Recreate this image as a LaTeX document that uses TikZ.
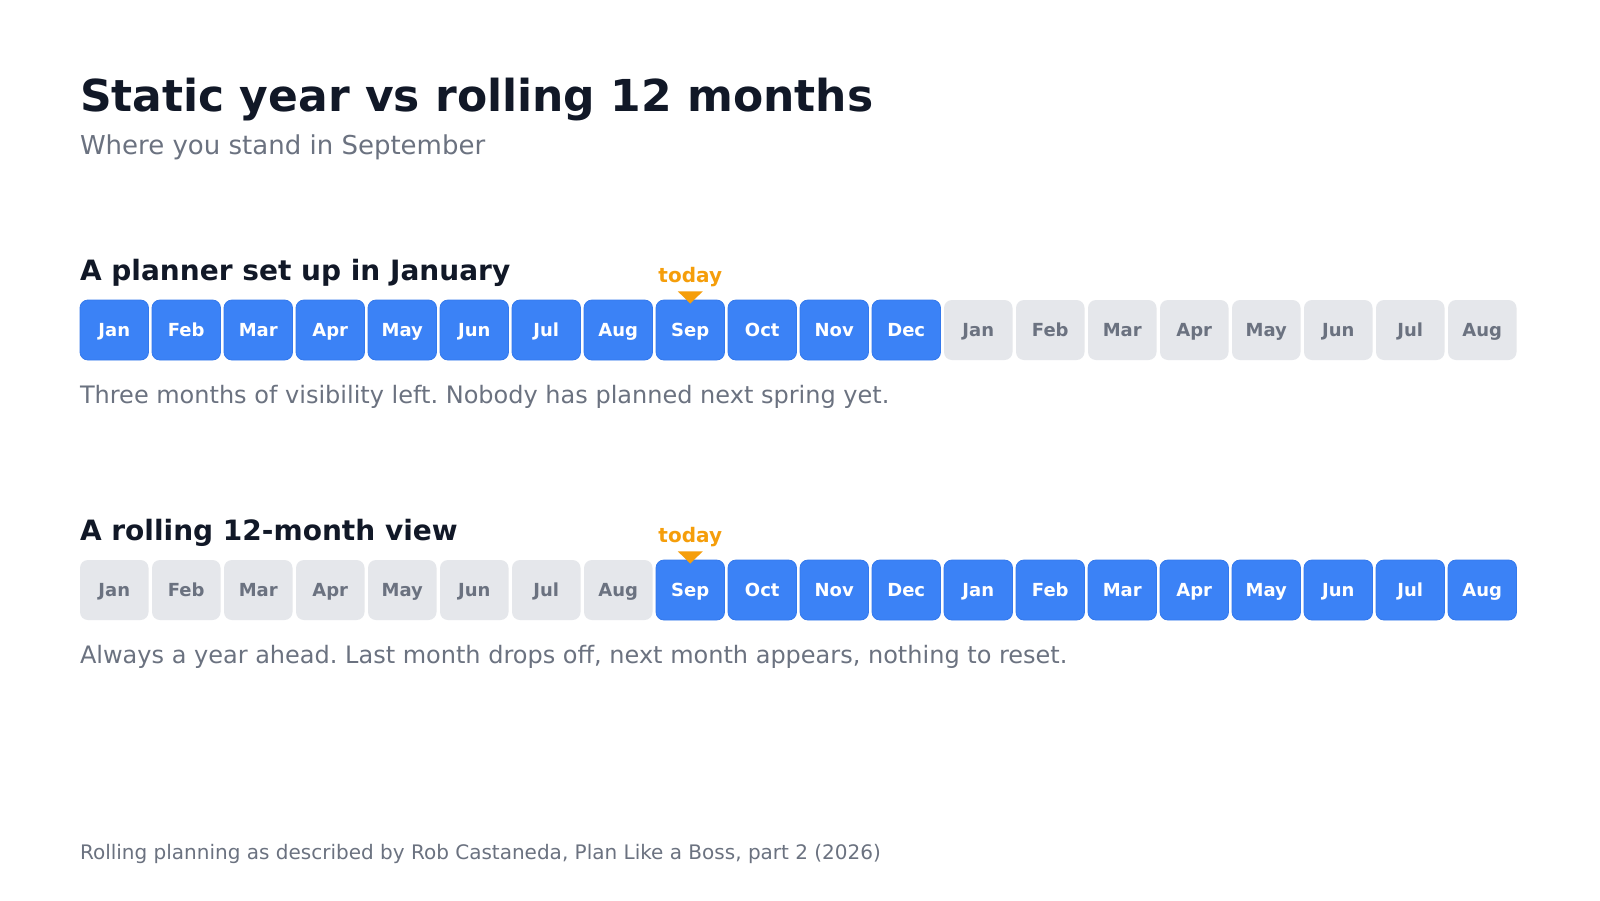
\documentclass[tikz,border=0pt]{standalone}
\usepackage{fontspec}
\setmainfont{DejaVu Sans}
\frenchspacing
\definecolor{ink}{HTML}{111827}
\definecolor{muted}{HTML}{6B7280}
\definecolor{mblue}{HTML}{3B82F6}
\definecolor{mblueedge}{HTML}{3479EC}
\definecolor{lgray}{HTML}{E5E7EB}
\definecolor{amber}{HTML}{F59E0B}
\tikzset{
  txt/.style={inner sep=0pt, outer sep=0pt, anchor=base west},
  monthbase/.style={rounded corners=8pt, minimum width=68.5pt, minimum height=60pt, inner sep=0pt,
    text height=13.3pt, text depth=0pt, font=\fontsize{18}{20}\selectfont\bfseries},
  monthon/.style={monthbase, fill=mblue, draw=mblueedge, line width=0.8pt, text=white},
  monthoff/.style={monthbase, fill=lgray, text=muted},
  todaylbl/.style={inner sep=0pt, anchor=base, text=amber, font=\fontsize{20}{22}\selectfont\bfseries},
  marker/.style={fill=amber}
}
\begin{document}
\begin{tikzpicture}[x=1pt,y=-1pt]
\useasboundingbox[fill=white] (0,0) rectangle (1600,900);
\node[txt, text=ink, font=\fontsize{44}{50}\selectfont\bfseries] (title) at (80,111.7) {Static year vs rolling 12 months};
\node[txt, text=muted, font=\fontsize{26}{30}\selectfont] (subtitle) at (80,154) {Where you stand in September};
% row 1
\node[txt, text=ink, font=\fontsize{28}{32}\selectfont\bfseries] (head1) at (80,280) {A planner set up in January};
\foreach \m [count=\i from 0] in {Jan,Feb,Mar,Apr,May,Jun,Jul,Aug,Sep,Oct,Nov,Dec}
  \node[monthon] (r1m\i) at ({80+\i*72+34.25},330) {\m};
\foreach \m [count=\i from 12] in {Jan,Feb,Mar,Apr,May,Jun,Jul,Aug}
  \node[monthoff] (r1m\i) at ({80+\i*72+34.25},330) {\m};
\node[todaylbl] (today1) at (690.25,282.5) {today};
\fill[marker] (r1m8.north) ++(0,4) -- ++(-12.5,-12.3) -- ++(25,0) -- cycle;
\node[txt, text=muted, font=\fontsize{24}{28}\selectfont] (cap1) at (80,403.3) {Three months of visibility left. Nobody has planned next spring yet.};
% row 2
\node[txt, text=ink, font=\fontsize{28}{32}\selectfont\bfseries] (head2) at (80,540) {A rolling 12-month view};
\foreach \m [count=\i from 0] in {Jan,Feb,Mar,Apr,May,Jun,Jul,Aug}
  \node[monthoff] (r2m\i) at ({80+\i*72+34.25},590) {\m};
\foreach \m [count=\i from 8] in {Sep,Oct,Nov,Dec,Jan,Feb,Mar,Apr,May,Jun,Jul,Aug}
  \node[monthon] (r2m\i) at ({80+\i*72+34.25},590) {\m};
\node[todaylbl] (today2) at (690.25,542.5) {today};
\fill[marker] (r2m8.north) ++(0,4) -- ++(-12.5,-12.3) -- ++(25,0) -- cycle;
\node[txt, text=muted, font=\fontsize{24}{28}\selectfont] (cap2) at (80,663.3) {Always a year ahead. Last month drops off, next month appears, nothing to reset.};
% footer
\node[txt, text=muted, font=\fontsize{20}{22}\selectfont] (foot) at (80,859.3) {Rolling planning as described by Rob Castaneda, Plan Like a Boss, part 2 (2026)};
\end{tikzpicture}
\end{document}
